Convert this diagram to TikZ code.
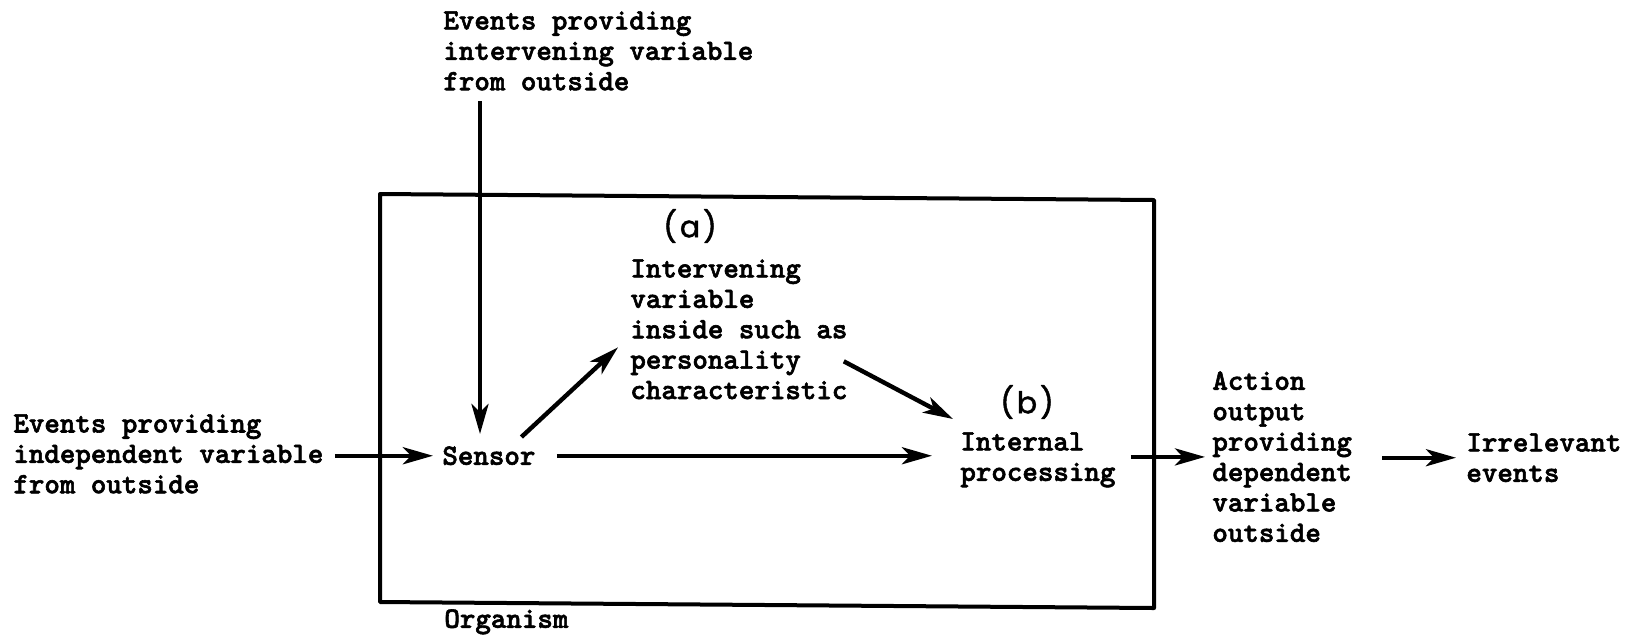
\documentclass[tikz,border=0pt]{standalone}
\usepackage{fontspec}
\newfontfamily\handfont{Poppins}[FakeBold=1.6]
\newfontfamily\twfont{lmmonolt10-bold.otf}[FakeBold=2]
\usetikzlibrary{arrows.meta}
\begin{document}
\begin{tikzpicture}[x=0.5pt,y=-0.5pt,
  tw/.style={font=\twfont\fontsize{14.76}{15.2}\selectfont, align=left, inner sep=0pt, anchor=north west},
  hand/.style={font=\handfont\fontsize{15}{15}\selectfont, inner sep=0pt},
  arr/.style={line width=2.2pt, -{Stealth[length=15pt,width=8.5pt,inset=4pt]}},
  frame/.style={line width=2pt, line join=round}]
\useasboundingbox (0,0) rectangle (1636,634);

% organism frame
\draw[frame] (380,194) coordinate (tl) -- (1154,200) coordinate (tr)
  -- (1154,608) coordinate (br) -- (380,602) coordinate (bl) -- cycle;

% labels
\node[tw] (topsrc) at (443,11) {Events providing\\intervening variable\\from outside};
\node[tw] (leftsrc) at (13,414) {Events providing\\independent variable\\from outside};
\node[tw] (sensor) at (442,446) {Sensor};
\node[tw] (interv) at (630,259) {Intervening\\variable\\inside such as\\personality\\characteristic};
\node[tw] (internal) at (960,432) {Internal\\processing};
\node[tw] (action) at (1212,371) {Action\\output\\providing\\dependent\\variable\\outside};
\node[tw] (irr) at (1466,433) {Irrelevant\\events};
\node[tw] (organism) at (444,609) {Organism};
\node[hand] (la) at (690,226) {(\kern1.5pt a\kern1.5pt)};
\node[hand] (lb) at (1027,402) {(\kern1.5pt b\kern1.5pt)};

% connectors
\coordinate (vtop) at (480,101);
\draw[arr, shorten >=6pt] (vtop) -- (vtop |- sensor.north);
\draw[arr, shorten <=5.5pt, shorten >=4.5pt] (leftsrc.east |- sensor.west) -- (sensor.west);
\draw[arr, shorten <=10.5pt, shorten >=14pt] (sensor.east) -- (sensor.east -| internal.west);
\draw[arr] ([xshift=16.25pt,yshift=4.5pt]sensor.north) -- ([xshift=-6pt,yshift=-9pt]interv.west);
\draw[arr] ([xshift=-2pt,yshift=-16pt]interv.east) -- ([xshift=-3.5pt,yshift=6.5pt]internal.north west);
\draw[arr, shorten <=7.5pt, shorten >=3.5pt] ([yshift=1.5pt]internal.east) -- ([yshift=1.5pt]internal.east -| action.west);
\draw[arr, shorten <=15pt, shorten >=5pt] (action.east |- irr.west) -- (irr.west);
\end{tikzpicture}
\end{document}
